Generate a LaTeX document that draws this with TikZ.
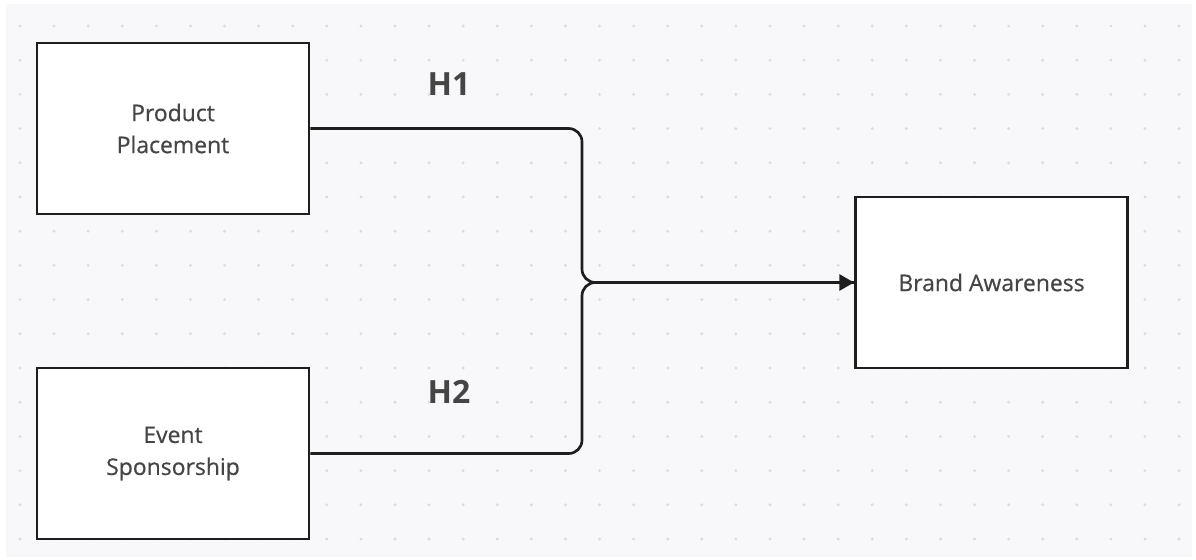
\documentclass[tikz,border=0pt]{standalone}
\usepackage{fontspec}
\setmainfont{Open Sans}
\newfontfamily\boxfont[FakeBold=0.5]{Open Sans}
\usepackage{tikz}
\usetikzlibrary{arrows.meta}

\definecolor{canvas}{HTML}{F8F8FA}
\definecolor{griddot}{HTML}{DCDCE0}
\definecolor{inktext}{HTML}{454545}
\definecolor{inkline}{HTML}{1E1E1E}

\tikzset{
  varbox/.style={draw=inkline, fill=white, line width=2.2pt, minimum width=204pt, minimum height=128.25pt,
    inner sep=0pt, align=center, text=inktext, font=\boxfont\fontsize{17.2}{24}\selectfont},
  hypo/.style={text=inktext, font=\fontsize{24}{28}\selectfont\bfseries, inner sep=0pt},
  conn/.style={draw=inkline, line width=2pt, rounded corners=10},
}

\begin{document}
\begin{tikzpicture}[x=0.75pt,y=0.75pt,yscale=-1,xscale=1]
        \useasboundingbox (0,0) rectangle (1196,560);

        %background and dot grid
        \fill[canvas] (6,4) rectangle (1192,557);
        \foreach \i in {0,...,34}
          \foreach \j in {0,...,15}
            \fill[griddot] (20+34.09*\i,26+34.2*\j) circle (1.6);

        %boxes
        \node[varbox] (pp) at (173,128.5) {Product\\Placement};
        \node[varbox] (es) at (173,453.5) {Event\\Sponsorship};
        \node[varbox] (ba) at (991.5,282.5) {Brand Awareness};

        %junction
        \coordinate (jn) at (582,282.5);

        %connectors
        \draw[conn] (pp.east) -| (jn) -- (ba.west);
        \draw[conn, -{Triangle[length=11pt,width=12pt]}] (es.east) -| (jn) -- (ba.west);

        %labels
        \node[hypo] (h1) at (449,84) {H1};
        \node[hypo] (h2) at (449,392) {H2};
\end{tikzpicture}
\end{document}
